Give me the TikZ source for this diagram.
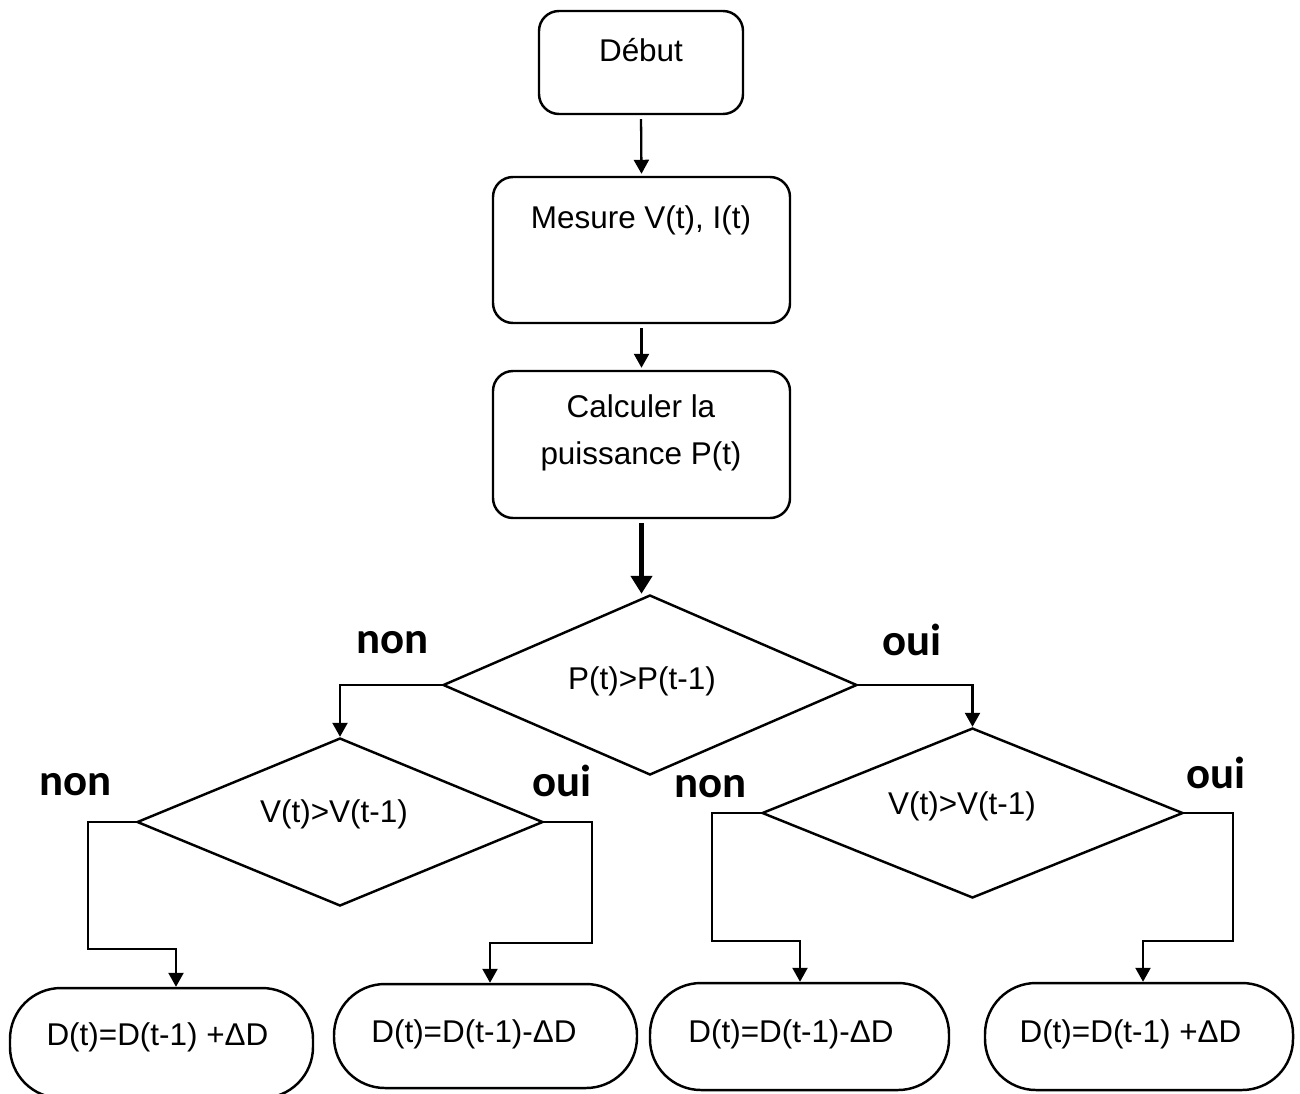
\documentclass[tikz,border=0pt]{standalone}
\usepackage{fontspec}
\setmainfont{Liberation Sans}
\newfontfamily\answerfont{Carlito}
\usetikzlibrary{shapes.geometric,arrows.meta,calc}

\begin{document}
\begin{tikzpicture}[x=0.02cm,y=-0.02cm,
  box/.style={draw,line width=1.4pt,rounded corners=0.4cm,inner sep=0pt},
  pill/.style={draw,line width=1.4pt,rounded corners=1.02cm,inner sep=0pt},
  test/.style={draw,diamond,line width=1.4pt,inner sep=0pt},
  txt/.style={font=\fontsize{17.9pt}{26.6pt}\selectfont,inner sep=0pt,align=center},
  answer/.style={font=\answerfont\bfseries\fontsize{25.5pt}{30pt}\selectfont,inner sep=0pt,anchor=base},
  arr/.style={line width=1.3pt,-{Triangle[length=0.28cm,width=0.3cm]}},
  bigarr/.style={line width=3.4pt,-{Triangle[length=0.36cm,width=0.42cm]}}]

\useasboundingbox (0,0) rectangle (1300,1093);
\clip (0,0) rectangle (1300,1093);

% process boxes
\node[box,minimum width=204*0.02cm,minimum height=103*0.02cm] (debut) at (641,62.5) {};
\node[txt] (debut-t) at (641,50) {Début};

\node[box,minimum width=297*0.02cm,minimum height=146*0.02cm] (mesure) at (641.5,250) {};
\node[txt] (mesure-t) at (641,220) {Mesure V(t), I(t)};

\node[box,minimum width=297*0.02cm,minimum height=147*0.02cm] (calc) at (641.5,444.5) {};
\node[txt] (calc-t) at (641,433) {Calculer la\\puissance P(t)};

% decisions
\node[test,minimum width=414*0.02cm,minimum height=180*0.02cm] (d1) at (650,685) {};
\node[txt] (d1-t) at (642,681) {P(t)>P(t-1)};

\node[test,minimum width=406*0.02cm,minimum height=168*0.02cm] (d2) at (340,822) {};
\node[txt] (d2-t) at (334,814) {V(t)>V(t-1)};

\node[test,minimum width=421*0.02cm,minimum height=170*0.02cm] (d3) at (972.5,813) {};
\node[txt] (d3-t) at (962,806) {V(t)>V(t-1)};

% duty-cycle updates
\node[pill,minimum width=303*0.02cm,minimum height=110*0.02cm] (b1) at (161.5,1043) {};
\node[txt] (b1-t) at (157.5,1037) {D(t)=D(t-1) +ΔD};

\node[pill,minimum width=303*0.02cm,minimum height=104*0.02cm] (b2) at (485.5,1036) {};
\node[txt] (b2-t) at (474,1034) {D(t)=D(t-1)-ΔD};

\node[pill,minimum width=299*0.02cm,minimum height=107*0.02cm] (b3) at (799.5,1036.5) {};
\node[txt] (b3-t) at (791,1034) {D(t)=D(t-1)-ΔD};

\node[pill,minimum width=308*0.02cm,minimum height=107*0.02cm] (b4) at (1139,1036.5) {};
\node[txt] (b4-t) at (1130.5,1034) {D(t)=D(t-1) +ΔD};

% branch labels
\node[answer] (l1) at (392.5,653) {non};
\node[answer] (l2) at (912,655) {oui};
\node[answer] (l3) at (75.5,795) {non};
\node[answer] (l4) at (562,796) {oui};
\node[answer] (l5) at (710.5,797) {non};
\node[answer] (l6) at (1216,788) {oui};

% connectors
\draw[arr,shorten <=0.08cm,shorten >=0.04cm] (debut.south) -- (mesure.north);
\draw[arr,shorten <=0.08cm,shorten >=0.04cm] (mesure.south) -- (calc.north);
\draw[bigarr,shorten <=0.08cm] (calc.south) -- (calc.south |- d1.north);

\draw[arr] (d1.west) -| (d2.north);
\draw[arr] (d1.east) -| (d3.north);

\draw[arr] (d2.west) -| (88,949) -| ($(b1.north)+(14.5,0)$);
\draw[arr] (d2.east) -| (592,943) -| ($(b2.north)+(4.5,0)$);
\draw[arr] (d3.west) -| (712,941) -| ($(b3.north)+(0.5,0)$);
\draw[arr] (d3.east) -| (1233,941) -| ($(b4.north)+(4,0)$);
\end{tikzpicture}
\end{document}
